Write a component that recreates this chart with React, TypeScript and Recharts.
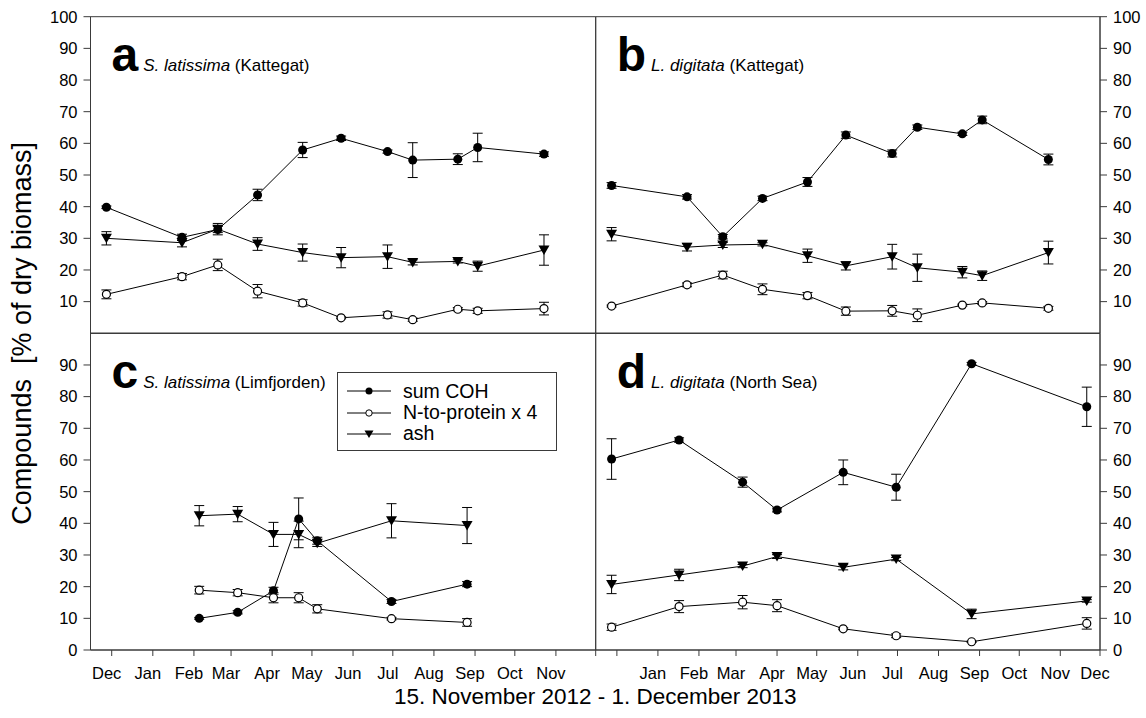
import React from 'react';
import { LineChart, Line, XAxis, YAxis, ErrorBar, ReferenceArea, Legend } from 'recharts';

const FONT = '"Liberation Sans", Arial, Helvetica, sans-serif';
const W = 1146;
const H = 718;
const AXIS = '#3a3a3a';

// plot frame (page px)
const X0 = 90.5;
const XM = 595.7;
const X1 = 1100;
const Y0 = 16.7;
const YM = 333.3;
const Y1 = 650;
const YAXIS_W = 40;
const XAXIS_H = 30;

// --- data -------------------------------------------------------------
const seriesNames = ['sum COH', 'N-to-protein x 4', 'ash'];

const monthStarts = [
  '2012-12-01', '2013-01-01', '2013-02-01', '2013-03-01', '2013-04-01', '2013-05-01', '2013-06-01',
  '2013-07-01', '2013-08-01', '2013-09-01', '2013-10-01', '2013-11-01', '2013-12-01',
];
const monthLabels = ['Dec', 'Jan', 'Feb', 'Mar', 'Apr', 'May', 'Jun', 'Jul', 'Aug', 'Sep', 'Oct', 'Nov', 'Dec'];

const topTicks = [10, 20, 30, 40, 50, 60, 70, 80, 90, 100];
const bottomTicks = [0, 10, 20, 30, 40, 50, 60, 70, 80, 90];

// a + b: Kattegat
const datesKattegat = [
  '2012-11-27', '2013-01-23', '2013-02-19', '2013-03-21', '2013-04-24', '2013-05-23',
  '2013-06-27', '2013-07-16', '2013-08-19', '2013-09-03', '2013-10-23',
];
const cohA = [39.8, 30.3, 32.8, 43.7, 57.9, 61.6, 57.4, 54.7, 55.0, 58.7, 56.6];
const cohAErr = [0.4, 1.0, 1.0, 1.8, 2.4, 0.7, 0.5, 5.5, 1.7, 4.5, 0.7];
const protA = [12.3, 17.9, 21.6, 13.3, 9.6, 4.9, 5.8, 4.3, 7.6, 7.1, 7.8];
const protAErr = [1.4, 1.0, 1.8, 2.1, 1.0, 0.3, 1.0, 0.5, 0.5, 0.8, 2.0];
const ashA = [30.0, 28.6, 32.9, 28.2, 25.5, 23.9, 24.2, 22.4, 22.7, 21.2, 26.3];
const ashAErr = [2.1, 1.3, 1.8, 2.0, 2.7, 3.2, 3.7, 0.8, 0.5, 1.6, 4.8];

const cohB = [46.7, 43.1, 30.5, 42.6, 47.8, 62.6, 56.8, 65.1, 63.0, 67.4, 54.9];
const cohBErr = [0.9, 0.7, 0.7, 0.7, 1.4, 1.0, 1.1, 0.7, 0.5, 1.2, 1.7];
const protB = [8.6, 15.3, 18.4, 13.9, 11.9, 7.0, 7.1, 5.7, 8.9, 9.6, 7.9];
const protBErr = [0.3, 0.6, 1.2, 1.7, 1.0, 1.3, 1.7, 2.0, 0.3, 0.4, 0.6];
const ashB = [31.3, 27.2, 27.9, 28.1, 24.5, 21.3, 24.2, 20.7, 19.3, 18.2, 25.5];
const ashBErr = [2.1, 1.2, 0.8, 0.5, 2.1, 1.3, 3.9, 4.3, 1.8, 1.5, 3.6];

// c: Limfjorden
const datesLimfjorden = ['2013-02-05', '2013-03-06', '2013-04-02', '2013-04-21', '2013-05-05', '2013-06-30', '2013-08-26'];
const cohC = [10.0, 11.9, 18.7, 41.4, 34.5, 15.3, 20.8];
const cohCErr = [0.3, 0.5, 1.1, 6.6, 1.1, 0.6, 0.8];
const protC = [18.9, 18.1, 16.5, 16.5, 13.0, 9.9, 8.7];
const protCErr = [1.2, 1.0, 1.6, 1.6, 1.3, 0.4, 1.2];
const ashC = [42.4, 42.9, 36.5, 36.5, 33.7, 40.8, 39.3];
const ashCErr = [3.2, 2.4, 3.8, 4.2, 1.0, 5.4, 5.7];

// d: North Sea
const datesNorthSea = ['2012-11-27', '2013-01-17', '2013-03-06', '2013-04-01', '2013-05-21', '2013-06-30', '2013-08-26', '2013-11-21'];
const cohD = [60.3, 66.3, 53.0, 44.2, 56.1, 51.4, 90.4, 76.8];
const cohDErr = [6.4, 0.7, 1.6, 0.6, 3.9, 4.1, 0.4, 6.2];
const protD = [7.2, 13.7, 15.1, 14.0, 6.7, 4.5, 2.6, 8.4];
const protDErr = [1.0, 1.9, 2.1, 1.9, 0.3, 0.6, 0.2, 1.8];
const ashD = [20.7, 23.7, 26.5, 29.5, 26.1, 28.7, 11.4, 15.5];
const ashDErr = [2.9, 1.8, 0.5, 0.6, 0.8, 0.5, 1.5, 0.4];

// ----------------------------------------------------------------------
const START = Date.parse('2012-11-15');
const dayOf = (s: string) => (Date.parse(s) - START) / 86400000;
const DOMAIN_END = dayOf('2013-12-01');
const monthTicks = monthStarts.map(dayOf);

function buildRows(dates: string[], coh: number[], cohErr: number[], prot: number[], protErr: number[], ash: number[], ashErr: number[]) {
  return dates.map((d, i) => ({
    t: dayOf(d),
    coh: coh[i],
    cohErr: cohErr[i],
    prot: prot[i],
    protErr: protErr[i],
    ash: ash[i],
    ashErr: ashErr[i],
  }));
}

const FilledDot = (p: any) => <circle key={`f-${p.index}`} cx={p.cx} cy={p.cy} r={4.5} fill="#000" />;
const OpenDot = (p: any) => (
  <circle key={`o-${p.index}`} cx={p.cx} cy={p.cy} r={4} fill="#fff" stroke="#000" strokeWidth={1.2} />
);
const TriDot = (p: any) => (
  <path key={`t-${p.index}`} d={`M${p.cx - 5.5},${p.cy - 4.5}L${p.cx + 5.5},${p.cy - 4.5}L${p.cx},${p.cy + 5}Z`} fill="#000" />
);

function legendMarker(name: string, cx: number, cy: number) {
  if (name === seriesNames[0]) return <circle cx={cx} cy={cy} r={3.5} fill="#000" />;
  if (name === seriesNames[1]) return <circle cx={cx} cy={cy} r={3.2} fill="#fff" stroke="#000" strokeWidth={1} />;
  return <path d={`M${cx - 4.5},${cy - 3.5}L${cx + 4.5},${cy - 3.5}L${cx},${cy + 4}Z`} fill="#000" />;
}

const LegendBox = ({ payload }: any) => {
  // keep the drawing order, recharts sorts entries by name
  const items = [...(payload || [])].sort((a: any, b: any) => seriesNames.indexOf(a.value) - seriesNames.indexOf(b.value));
  return (
    <div
      style={{
        boxSizing: 'border-box',
        width: 220,
        height: 79,
        border: `1px solid ${AXIS}`,
        background: '#fff',
        padding: '8px 0 0 9px',
        fontFamily: FONT,
        fontSize: 19.5,
        color: '#000',
        lineHeight: 1,
      }}
    >
      {items.map((entry: any) => (
        <div key={entry.value} style={{ display: 'flex', alignItems: 'center', height: 21.3 }}>
          <svg width={44} height={14} style={{ display: 'block' }}>
            <line x1={0} x2={44} y1={7} y2={7} stroke="#000" strokeWidth={1} />
            {legendMarker(entry.value, 22, 7)}
          </svg>
          <span style={{ marginLeft: 12 }}>{entry.value}</span>
        </div>
      ))}
    </div>
  );
};

const MonthTick = ({ x, y, payload, skip }: any) => {
  const i = monthTicks.indexOf(payload.value);
  if (i < 0 || payload.value === skip) return <g />;
  return (
    <text x={x - 5} y={y + 21} textAnchor="middle" fontFamily={FONT} fontSize={16.5} fill="#000">
      {monthLabels[i]}
    </text>
  );
};

type PanelProps = {
  rows: any[];
  left: number;
  right: number;
  top: number;
  bottom: number;
  side: 'left' | 'right';
  yTicks: number[];
  bottomRow: boolean;
  skipLabel?: number;
  withLegend?: boolean;
};

function Panel({ rows, left, right, top, bottom, side, yTicks, bottomRow, skipLabel, withLegend }: PanelProps) {
  const margin = {
    top,
    bottom: H - bottom - XAXIS_H,
    left: side === 'left' ? left - YAXIS_W : left,
    right: side === 'right' ? W - right - YAXIS_W : W - right,
  };
  return (
    <div style={{ position: 'absolute', left: 0, top: 0 }}>
      <LineChart width={W} height={H} data={rows} margin={margin}>
        <ReferenceArea x1={0} x2={DOMAIN_END} y1={0} y2={100} fill="none" stroke={AXIS} strokeWidth={1} />
        <XAxis
          type="number"
          dataKey="t"
          domain={[0, DOMAIN_END]}
          ticks={monthTicks}
          interval={0}
          height={XAXIS_H}
          axisLine={{ stroke: AXIS }}
          tickLine={{ stroke: AXIS }}
          tickSize={bottomRow ? 6 : -5}
          tickMargin={2}
          tick={bottomRow ? (p: any) => <MonthTick {...p} skip={skipLabel} /> : false}
        />
        <YAxis
          orientation={side}
          type="number"
          domain={[0, 100]}
          ticks={yTicks}
          interval={0}
          width={YAXIS_W}
          axisLine={{ stroke: AXIS }}
          tickLine={{ stroke: AXIS }}
          tickSize={7}
          tickMargin={6}
          tick={{ fill: '#000', fontSize: 16.5, fontFamily: FONT }}
        />
        {withLegend && (
          <Legend
            layout="horizontal"
            verticalAlign="middle"
            align="center"
            wrapperStyle={{ left: 337, top: 371.7, width: 220, height: 79 }}
            content={(p: any) => <LegendBox {...p} />}
          />
        )}
        <Line dataKey="coh" name={seriesNames[0]} stroke="#000" strokeWidth={1} dot={FilledDot} activeDot={false} isAnimationActive={false}>
          <ErrorBar dataKey="cohErr" width={5} stroke="#000" strokeWidth={1} direction="y" />
        </Line>
        <Line dataKey="prot" name={seriesNames[1]} stroke="#000" strokeWidth={1} dot={OpenDot} activeDot={false} isAnimationActive={false}>
          <ErrorBar dataKey="protErr" width={5} stroke="#000" strokeWidth={1} direction="y" />
        </Line>
        <Line dataKey="ash" name={seriesNames[2]} stroke="#000" strokeWidth={1} dot={TriDot} activeDot={false} isAnimationActive={false}>
          <ErrorBar dataKey="ashErr" width={5} stroke="#000" strokeWidth={1} direction="y" />
        </Line>
      </LineChart>
    </div>
  );
}

const panelLabels = [
  { letter: 'a', species: 'S. latissima', site: '(Kattegat)', x: X0, y: Y0 },
  { letter: 'b', species: 'L. digitata', site: '(Kattegat)', x: XM, y: Y0 },
  { letter: 'c', species: 'S. latissima', site: '(Limfjorden)', x: X0, y: YM },
  { letter: 'd', species: 'L. digitata', site: '(North Sea)', x: XM, y: YM },
];

export default function App() {
  const rowsA = buildRows(datesKattegat, cohA, cohAErr, protA, protAErr, ashA, ashAErr);
  const rowsB = buildRows(datesKattegat, cohB, cohBErr, protB, protBErr, ashB, ashBErr);
  const rowsC = buildRows(datesLimfjorden, cohC, cohCErr, protC, protCErr, ashC, ashCErr);
  const rowsD = buildRows(datesNorthSea, cohD, cohDErr, protD, protDErr, ashD, ashDErr);

  return (
    <div style={{ position: 'absolute', left: 0, top: 0, width: W, height: H, background: '#fff', overflow: 'hidden' }}>
      <Panel rows={rowsA} left={X0} right={XM} top={Y0} bottom={YM} side="left" yTicks={topTicks} bottomRow={false} />
      <Panel rows={rowsB} left={XM} right={X1} top={Y0} bottom={YM} side="right" yTicks={topTicks} bottomRow={false} />
      <Panel rows={rowsC} left={X0} right={XM} top={YM} bottom={Y1} side="left" yTicks={bottomTicks} bottomRow skipLabel={DOMAIN_END} withLegend />
      <Panel rows={rowsD} left={XM} right={X1} top={YM} bottom={Y1} side="right" yTicks={bottomTicks} bottomRow skipLabel={monthTicks[0]} />

      <svg width={W} height={H} style={{ position: 'absolute', left: 0, top: 0, pointerEvents: 'none' }} fontFamily={FONT}>
        {panelLabels.map((l) => (
          <text key={l.letter} x={l.x + 21} y={l.y + 54.5} fill="#000">
            <tspan fontSize={48} fontWeight="bold">{l.letter}</tspan>
            <tspan dx={5} fontSize={17} fontStyle="italic">{l.species}</tspan>
            <tspan fontSize={17}>{'\u00a0' + l.site}</tspan>
          </text>
        ))}
        <text x={(X0 + X1) / 2} y={704} textAnchor="middle" fontSize={22.5} fill="#000">
          15. November 2012 - 1. December 2013
        </text>
        <text
          transform={`translate(31, ${(Y0 + Y1) / 2}) rotate(-90)`}
          textAnchor="middle"
          fontSize={27}
          fill="#000"
          style={{ whiteSpace: 'pre' }}
        >
          {'Compounds  [% of dry biomass]'}
        </text>
      </svg>
    </div>
  );
}
